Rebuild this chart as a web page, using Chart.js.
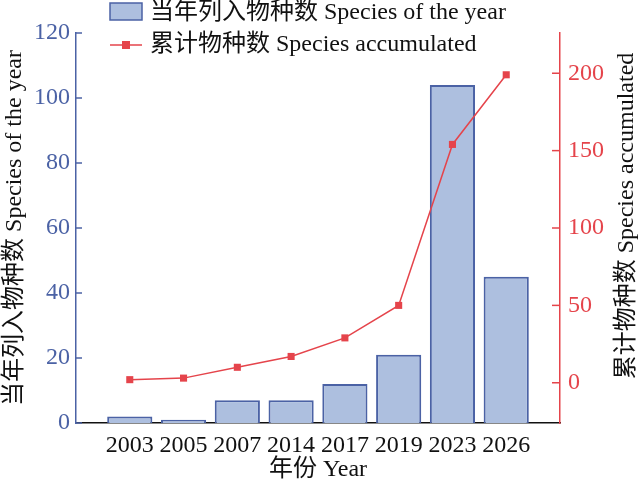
<!DOCTYPE html>
<html>
<head>
<meta charset="utf-8">
<script src="https://cdn.jsdelivr.net/npm/chart.js@4"></script>
<style>
  html, body { margin: 0; padding: 0; background: #fff; }
  #wrap { width: 638px; height: 484px; }
</style>
</head>
<body>
<div id="wrap"><canvas id="chart"></canvas></div>
<script>
"use strict"

// datos
var anios = ["2003", "2005", "2007", "2014", "2017", "2019", "2023", "2026"];
var especiesAnio = [2, 1, 7, 7, 12, 21, 104, 45];
var especiesAcum = [2, 3, 10, 17, 29, 50, 154, 199];
var ticksIzq = [0, 20, 40, 60, 80, 100, 120];
var ticksDer = [0, 50, 100, 150, 200];

var azul = "#4b62a5";
var relleno = "#adbfdf";
var rojo = "#e5444b";
var fuente = "'Liberation Serif', 'Noto Sans CJK SC', serif";
var tam = 24;

// categorias vacias a los lados, como en el original
var etiquetas = [""].concat(anios, [""]);
var barras = [null].concat(especiesAnio, [null]);
var linea = [null].concat(especiesAcum, [null]);

var tituloDer = "累计物种数 Species accumulated";

var leyenda = {
    id: "leyenda",
    afterDraw: function (chart) {
        var ctx = chart.ctx;
        var dsBarra = chart.data.datasets[1];
        var dsLinea = chart.data.datasets[0];
        ctx.save();
        ctx.font = tam + "px " + fuente;
        ctx.textBaseline = "middle";

        ctx.fillStyle = relleno;
        ctx.fillRect(110, 3, 32, 17);
        ctx.strokeStyle = azul;
        ctx.lineWidth = 1.5;
        ctx.strokeRect(110, 3, 32, 17);
        ctx.fillStyle = "#111";
        ctx.fillText(dsBarra.label, 150, 13);

        ctx.strokeStyle = rojo;
        ctx.lineWidth = 1.5;
        ctx.beginPath();
        ctx.moveTo(110, 45);
        ctx.lineTo(142, 45);
        ctx.stroke();
        ctx.fillStyle = rojo;
        ctx.fillRect(122, 41, 8, 8);
        ctx.fillStyle = "#111";
        ctx.fillText(dsLinea.label, 150, 45);

        // titulo del eje derecho, leido de abajo hacia arriba
        ctx.translate(627, 216);
        ctx.rotate(-Math.PI / 2);
        ctx.textAlign = "center";
        ctx.fillText(tituloDer, 0, 0);
        ctx.restore();
    }
};

// marcas de los ejes hacia adentro
var marcas = {
    id: "marcas",
    afterDatasetsDraw: function (chart) {
        var ctx = chart.ctx;
        ctx.save();
        ctx.lineWidth = 1.5;
        var izq = chart.scales.y;
        ctx.strokeStyle = azul;
        ticksIzq.forEach(function (v) {
            var py = izq.getPixelForValue(v);
            ctx.beginPath();
            ctx.moveTo(izq.right, py);
            ctx.lineTo(izq.right + 6, py);
            ctx.stroke();
        });
        var der = chart.scales.y2;
        ctx.strokeStyle = rojo;
        ticksDer.forEach(function (v) {
            var py = der.getPixelForValue(v);
            ctx.beginPath();
            ctx.moveTo(der.left, py);
            ctx.lineTo(der.left - 8, py);
            ctx.stroke();
        });
        ctx.restore();
    }
};

new Chart(document.getElementById("chart"), {
    type: "bar",
    data: {
        labels: etiquetas,
        datasets: [
            {
                type: "line",
                label: "累计物种数 Species accumulated",
                data: linea,
                yAxisID: "y2",
                borderColor: rojo,
                backgroundColor: rojo,
                borderWidth: 1.5,
                pointStyle: "rect",
                pointRadius: 5,
                pointBorderWidth: 0,
                tension: 0,
                order: 0
            },
            {
                label: "当年列入物种数 Species of the year",
                data: barras,
                yAxisID: "y",
                backgroundColor: relleno,
                borderColor: azul,
                borderWidth: 2,
                barPercentage: 0.84,
                categoryPercentage: 1,
                order: 1
            }
        ]
    },
    options: {
        responsive: true,
        maintainAspectRatio: false,
        animation: false,
        layout: { padding: { top: 33, left: 0, right: 0, bottom: 0 } },
        plugins: {
            legend: { display: false },
            tooltip: { enabled: false }
        },
        scales: {
            x: {
                offset: false,
                grid: { display: false },
                border: { display: true, color: "#111", width: 1.5 },
                ticks: { color: "#111", font: { family: fuente, size: tam }, padding: 0, maxRotation: 0, autoSkip: false },
                title: { display: true, text: "年份 Year", color: "#111", font: { family: fuente, size: tam }, padding: 0 },
                afterFit: function (s) { s.height = 61; }
            },
            y: {
                position: "left",
                min: 0,
                max: 120,
                grid: { display: false, drawTicks: false },
                border: { display: true, color: azul, width: 1.5 },
                ticks: { color: azul, font: { family: fuente, size: tam }, padding: 6 },
                afterBuildTicks: function (s) { s.ticks = ticksIzq.map(function (v) { return { value: v }; }); },
                title: { display: true, text: "当年列入物种数 Species of the year", color: "#111", font: { family: fuente, size: tam }, padding: 0 },
                afterFit: function (s) { s.width = 76; }
            },
            y2: {
                position: "right",
                min: -26,
                max: 226,
                grid: { display: false, drawTicks: false },
                border: { display: true, color: rojo, width: 1.5 },
                ticks: { color: rojo, font: { family: fuente, size: tam }, padding: 8 },
                afterBuildTicks: function (s) { s.ticks = ticksDer.map(function (v) { return { value: v }; }); },
                title: { display: false },
                afterFit: function (s) { s.width = 78; }
            }
        }
    },
    plugins: [leyenda, marcas]
});
</script>
</body>
</html>
